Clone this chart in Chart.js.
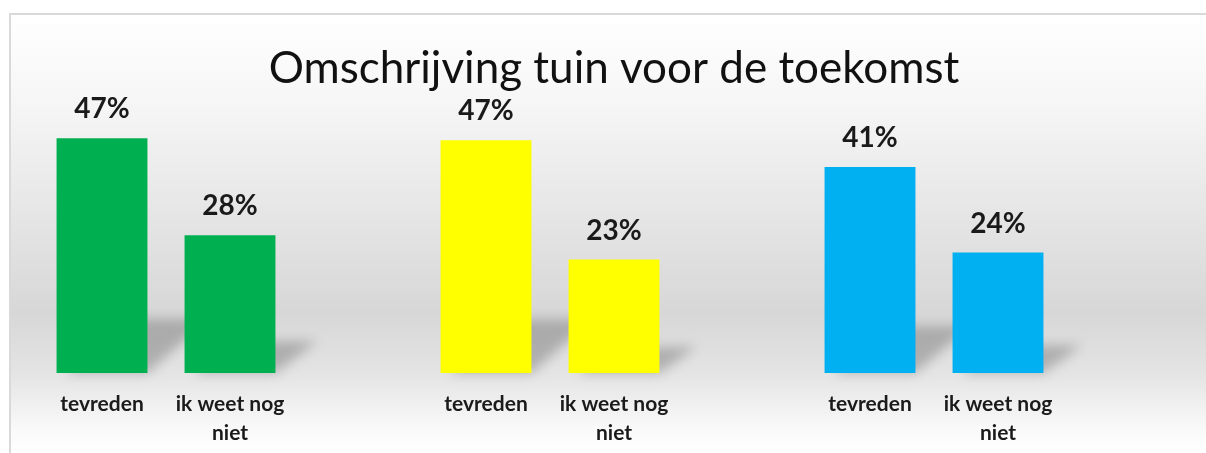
<!DOCTYPE html>
<html>
<head>
<meta charset="utf-8">
<script src="https://cdn.jsdelivr.net/npm/chart.js@4.4.1/dist/chart.umd.min.js"></script>
<style>
  html, body { margin: 0; padding: 0; background: #fff; }
  #wrap { width: 1206px; height: 453px; }
</style>
</head>
<body>
<div id="wrap"><canvas id="chart" width="1206" height="453"></canvas></div>
<script>
// Data (empty slots separate the three groups)
const categories = [
    "tevreden", ["ik weet nog", "niet"], "",
    "tevreden", ["ik weet nog", "niet"], "",
    "tevreden", ["ik weet nog", "niet"], ""
];
const percentages = [47.2, 27.7, null, 46.8, 22.8, null, 41.4, 24.2, null];
const barColors = [
    "#00B050", "#00B050", null,
    "#FFFF00", "#FFFF00", null,
    "#00B0F0", "#00B0F0", null
];
const chartTitle = "Omschrijving tuin voor de toekomst";

const FONT = "Lato, 'Open Sans', sans-serif";

// Frame + soft vertical gradient behind everything
const backgroundPlugin = {
    id: "frameBackground",
    beforeDraw(chart) {
        const ctx = chart.ctx;
        const x0 = 10, y0 = 14, x1 = chart.width, y1 = chart.height;
        ctx.save();
        const g = ctx.createLinearGradient(0, y0, 0, y1);
        g.addColorStop(0.00, "#ffffff");
        g.addColorStop(0.20, "#f6f6f6");
        g.addColorStop(0.45, "#e6e6e6");
        g.addColorStop(0.68, "#d7d7d7");
        g.addColorStop(0.82, "#e4e4e4");
        g.addColorStop(0.95, "#fafafa");
        g.addColorStop(1.00, "#ffffff");
        ctx.fillStyle = g;
        ctx.fillRect(x0, y0, x1 - x0, y1 - y0);
        ctx.strokeStyle = "#d9d9d9";
        ctx.lineWidth = 2;
        ctx.beginPath();
        ctx.moveTo(x0, y1);
        ctx.lineTo(x0, y0);
        ctx.lineTo(x1, y0);
        ctx.stroke();
        ctx.restore();
    }
};

// Perspective shadow falling to the right of each bar
const shadowPlugin = {
    id: "barShadow",
    beforeDatasetsDraw(chart) {
        const ctx = chart.ctx;
        const meta = chart.getDatasetMeta(0);
        ctx.save();
        ctx.filter = "blur(6px)";
        ctx.fillStyle = "rgba(0,0,0,0.22)";
        meta.data.forEach((bar, i) => {
            if (percentages[i] == null) return;
            const p = bar.getProps(["x", "y", "base", "width"], true);
            const left = p.x - p.width / 2;
            const right = p.x + p.width / 2;
            const h = p.base - p.y;
            const dh = h * 0.23;
            const dx = h * 0.2 + 14;
            ctx.beginPath();
            ctx.moveTo(left + 10, p.base);
            ctx.lineTo(right, p.base);
            ctx.lineTo(right + dx, p.base - dh);
            ctx.lineTo(left + dx, p.base - dh);
            ctx.closePath();
            ctx.fill();
        });
        ctx.restore();
    }
};

// Percentage labels above the bars
const valueLabelPlugin = {
    id: "valueLabels",
    afterDatasetsDraw(chart) {
        const ctx = chart.ctx;
        const meta = chart.getDatasetMeta(0);
        ctx.save();
        ctx.font = "bold 28px " + FONT;
        ctx.fillStyle = "#1a1a1a";
        ctx.textAlign = "center";
        ctx.textBaseline = "middle";
        meta.data.forEach((bar, i) => {
            const v = percentages[i];
            if (v == null) return;
            ctx.fillText(Math.round(v) + "%", bar.x, bar.y - 29);
        });
        ctx.restore();
    }
};

new Chart(document.getElementById("chart"), {
    type: "bar",
    data: {
        labels: categories,
        datasets: [{
            data: percentages,
            backgroundColor: barColors,
            borderWidth: 0,
            categoryPercentage: 1.0,
            barPercentage: 0.71,
        }],
    },
    options: {
        responsive: false,
        animation: false,
        layout: {
            padding: { top: 42, left: 38, right: 16, bottom: -12 },
        },
        plugins: {
            legend: { display: false },
            tooltip: { enabled: false },
            title: {
                display: true,
                text: chartTitle,
                color: "#111",
                font: { family: FONT, size: 44, weight: "normal", lineHeight: 1.2 },
                padding: { top: 0, bottom: 8 },
            },
        },
        scales: {
            x: {
                grid: { display: false, drawTicks: false },
                border: { display: false },
                ticks: {
                    color: "#1a1a1a",
                    padding: 17,
                    maxRotation: 0,
                    autoSkip: false,
                    font: { family: FONT, size: 21, weight: "bold", lineHeight: 1.38 },
                },
            },
            y: {
                display: false,
                min: 0,
                max: 54.3,
            },
        },
    },
    plugins: [backgroundPlugin, shadowPlugin, valueLabelPlugin],
});
</script>
</body>
</html>
